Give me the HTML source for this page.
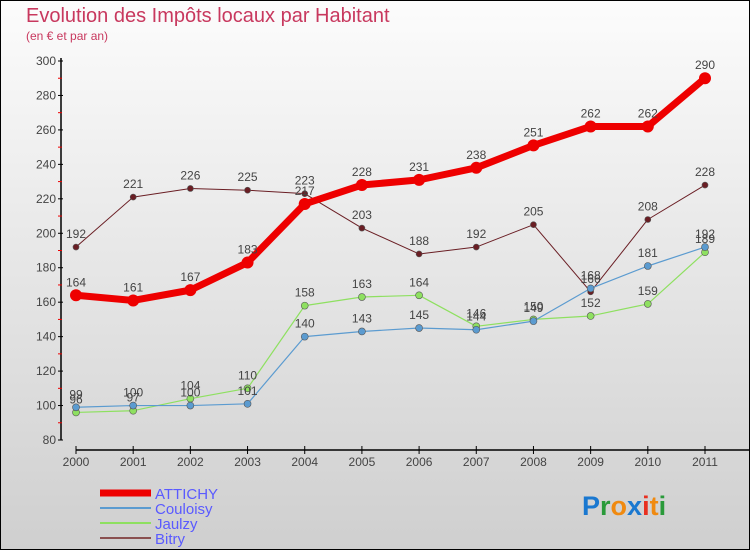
<!DOCTYPE html>
<html><head><meta charset="utf-8"><style>
body{margin:0}
svg{display:block;font-family:"Liberation Sans",sans-serif}
</style></head><body>
<svg id="c" width="750" height="550" viewBox="0 0 750 550">
<defs><linearGradient id="bg" x1="0" y1="0" x2="0" y2="1"><stop offset="0" stop-color="#fcfcfc"/><stop offset="1" stop-color="#cfcfcf"/></linearGradient></defs>
<rect x="0.5" y="0.5" width="749" height="549" fill="url(#bg)" stroke="#000"/>
<text x="26" y="22" font-size="20" fill="#c8385e">Evolution des Impôts locaux par Habitant</text>
<text x="26" y="40" font-size="12" fill="#c8385e">(en € et par an)</text>
<g id="axes"></g>
<g id="series"></g>
<g id="legend"></g>
<text x="582" y="515" font-size="27" font-weight="bold"><tspan fill="#1a78d0">P</tspan><tspan fill="#2a9a3a">r</tspan><tspan fill="#f08a10">o</tspan><tspan fill="#1a78d0">x</tspan><tspan fill="#e83020">i</tspan><tspan fill="#f08a10">t</tspan><tspan fill="#2a9a3a">i</tspan></text>
</svg>
<script>
const years=['2000','2001','2002','2003','2004','2005','2006','2007','2008','2009','2010','2011'];
const yTicks=[80,100,120,140,160,180,200,220,240,260,280,300];
const attichy=[164,161,167,183,217,228,231,238,251,262,262,290];
const couloisy=[99,100,100,101,140,143,145,144,149,168,181,192];
const jaulzy=[96,97,104,110,158,163,164,146,150,152,159,189];
const bitry=[192,221,226,225,223,203,188,192,205,166,208,228];
const NS='http://www.w3.org/2000/svg';
const X=i=>76+i*(705-76)/(years.length-1);
const Y=v=>440-(v-80)*(440-61)/220;
function mk(tag,attrs,parent,text){const e=document.createElementNS(NS,tag);for(const k in attrs)e.setAttribute(k,attrs[k]);if(text!==undefined)e.textContent=text;parent.appendChild(e);return e;}
const axes=document.getElementById('axes');
let e=mk('line',{x1:61,y1:58,x2:61,y2:440,stroke:'#000','stroke-width':1.5},axes);


e=mk('line',{x1:76,y1:450,x2:750,y2:450,stroke:'#000','stroke-width':1.5},axes);


yTicks.forEach((t,i)=>{
 mk('line',{x1:58,y1:Y(t),x2:63,y2:Y(t),stroke:'#000'},axes);
 if(i<yTicks.length-1)mk('line',{x1:58,y1:Y(t+10),x2:62,y2:Y(t+10),stroke:'#e00'},axes);
 const l=mk('text',{x:56,y:Y(t)+4,'font-size':12,'text-anchor':'end',fill:'#444'},axes,t);
 
 
});
years.forEach((y,i)=>{
 mk('line',{x1:X(i),y1:446,x2:X(i),y2:454,stroke:'#000'},axes);
 const l=mk('text',{x:X(i),y:466,'font-size':12,'text-anchor':'middle',fill:'#444'},axes,y);
 
 
});
const series=[
 {name:'bitry',data:bitry,color:'#6a1e24',w:1,r:3},
 {name:'jaulzy',data:jaulzy,color:'#8ee060',w:1.2,r:3.5},
 {name:'couloisy',data:couloisy,color:'#5b9bd0',w:1.2,r:3.5},
 {name:'attichy',data:attichy,color:'#ee0000',w:7,r:6}];
const sg=document.getElementById('series');
series.forEach(s=>{
 const g=mk('g',{},sg);
 
 
 const p=mk('polyline',{points:s.data.map((v,i)=>X(i)+','+Y(v)).join(' '),fill:'none',stroke:s.color,'stroke-width':s.w,'stroke-linejoin':'round'},g);
 
 
 s.data.forEach((v,i)=>{
  const c=mk('circle',{cx:X(i),cy:Y(v),r:s.r,fill:s.color,stroke:s.name==='attichy'?'none':'#555','stroke-width':0.6},g);
  
  
  const t=mk('text',{x:X(i),y:Y(v)-9,'font-size':12,'text-anchor':'middle',fill:'#444'},g,v);
  
  
 });
});
const lg=document.getElementById('legend');
const leg=[['ATTICHY','#ee0000',7],['Couloisy','#5b9bd0',2],['Jaulzy','#8ee060',2],['Bitry','#8a5050',2]];
leg.forEach((l,i)=>{
 const y=493+i*15;
 const g=mk('g',{},lg);
 
 
 mk('line',{x1:100,y1:y,x2:151,y2:y,stroke:l[1],'stroke-width':l[2]},g);
 mk('text',{x:155,y:y+6,'font-size':15,fill:'#5a5aff'},g,l[0]);
});
</script>
</body></html>
